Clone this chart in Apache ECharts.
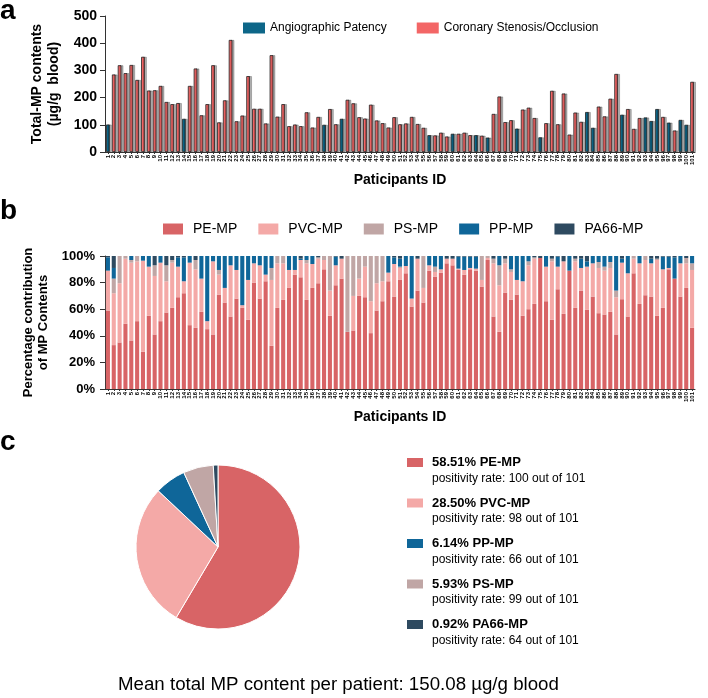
<!DOCTYPE html>
<html>
<head>
<meta charset="utf-8">
<script src="https://cdn.jsdelivr.net/npm/echarts@6/dist/echarts.min.js"></script>
<style>
  html, body { margin: 0; padding: 0; background: #fff; }
  #chart { width: 708px; height: 698px; }
</style>
</head>
<body>
<div id="chart"></div>
<script>
  // ---- data ----
  const participantIds = [];
  for (let i = 1; i <= 101; i++) participantIds.push(String(i));

  // participants with angiographic patency (the rest: stenosis / occlusion)
  const patencyIds = [1, 14, 38, 41, 56, 60, 64, 66, 71, 75, 83, 84, 89, 93, 94, 95, 97, 99, 100];

  // total MP contents, µg/g blood
  const totalMP = [
    101, 285, 319, 290, 320, 265, 350, 226, 227, 243,
    184, 176, 180, 122, 243, 307, 135, 176, 319, 109,
    190, 412, 113, 134, 279, 159, 159, 105, 356, 130,
    176, 95, 101, 95, 146, 90, 129, 100, 158, 102,
    122, 192, 179, 128, 123, 174, 116, 106, 90, 128,
    102, 105, 129, 103, 89, 62, 61, 71, 57, 67,
    67, 71, 62, 62, 60, 53, 140, 204, 110, 117,
    86, 156, 163, 125, 54, 106, 225, 102, 215, 64,
    145, 111, 147, 89, 167, 131, 196, 287, 137, 158,
    85, 125, 127, 114, 158, 129, 108, 79, 118, 100,
    258
  ];

  // percentage contribution of each polymer (%)
  const pePct = [
    59, 33, 35, 49, 36.5, 51, 28, 55, 41, 51,
    57.5, 61, 69, 72, 48, 46, 58, 45, 41, 71,
    65, 54.5, 68, 61, 52, 80, 68, 81, 32.5, 61,
    67, 76, 86, 84, 67, 76, 79.5, 90, 55, 78,
    83, 43, 44, 70, 69, 42, 59, 66, 81, 69.5,
    82, 87, 62, 74, 65, 89, 84.5, 87.5, 94.5, 93,
    89.5, 86, 90, 89, 77, 97, 54.5, 43, 72.5, 67,
    71, 55, 60, 64, 98.5, 66, 52, 75, 56.5, 89,
    61, 74, 59.5, 69.5, 57, 56, 58, 41, 67.5, 54.5,
    87, 64, 70.5, 69.5, 55, 61, 90, 83, 69.5, 76,
    46
  ];
  const pvcPct = [
    30, 39, 44.5, 49, 58.5, 45, 68.5, 37, 44, 44,
    23.5, 34, 23, 9, 47, 44, 25, 6, 55, 15,
    11, 38.5, 21.5, 2, 30, 14.5, 25, 5, 49.5, 33.5,
    27.5, 13.5, 3.5, 13, 27.5, 18, 18.5, 7, 19, 15,
    15, 0, 26, 13, 23, 24, 20.5, 15, 6.5, 24.5,
    9, 5.5, 6, 24, 11, 4, 3.5, 2.5, 3.5, 5,
    1, 3.5, 1, 1.5, 5, 1.5, 40, 35, 22, 21,
    11, 26, 33, 34, 0, 26, 44, 17, 39.5, 0,
    35, 17, 32.5, 25, 34, 33, 33, 28, 27.5, 32.5,
    11, 30.5, 26.5, 25, 42, 29, 1, 0, 25, 18.5,
    43.5
  ];
  const psPct = [
    0, 11, 20.5, 2, 2, 4, 0, 0, 8, 0,
    12, 2, 0, 0, 0, 7, 0, 0, 0, 3.5,
    0, 0, 0, 0, 0, 0, 0, 0, 9, 5.5,
    5.5, 0, 0, 0, 2.5, 0, 1, 3, 26, 0,
    0, 57, 30, 17, 8, 34, 20.5, 19, 0, 0,
    1, 0, 0, 0, 24, 0, 4, 0, 0, 0,
    0, 0, 0, 0, 18, 1.5, 3.5, 15, 3.5, 2,
    0, 0, 3, 1, 0, 0, 2, 0, 0, 0,
    2, 0, 0, 0, 4.5, 3, 4.5, 5, 0, 0,
    2, 0, 3, 0, 1, 0, 0, 0, 0, 4,
    5
  ];
  const ppPct = [
    10, 8, 0, 0, 3, 0, 3.5, 8, 0, 5,
    0, 0, 7, 18, 5, 0, 17, 49, 4, 10.5,
    24, 7, 10.5, 37, 18, 5.5, 7, 14, 9, 0,
    0, 10.5, 10.5, 1, 3, 6, 0, 0, 0, 6.5,
    0, 0, 0, 0, 0, 0, 0, 0, 12.5, 5,
    6, 7.5, 32, 0, 0, 7, 8, 10, 0, 0,
    9, 10, 8.5, 9, 0, 0, 0, 7, 0, 10,
    18, 19, 4, 0, 0, 8, 0, 7.5, 0, 11,
    0, 7, 4, 5.5, 4.5, 8, 4.5, 26, 3, 13,
    0, 5.5, 0, 3.5, 0, 9.5, 8.5, 16, 5.5, 0,
    5.5
  ];
  const pa66Pct = [
    1, 9, 0, 0, 0, 0, 0, 0, 7, 0,
    7, 3, 1, 1, 0, 3, 0, 0, 0, 0,
    0, 0, 0, 0, 0, 0, 0, 0, 0, 0,
    0, 0, 0, 2, 0, 0, 1, 0, 0, 0.5,
    2, 0, 0, 0, 0, 0, 0, 0, 0, 1,
    2, 0, 0, 2, 0, 0, 0, 0, 2, 2,
    0.5, 0.5, 0.5, 0.5, 0, 0, 2, 0, 2, 0,
    0, 0, 0, 1, 1.5, 0, 2, 0.5, 4, 0,
    2, 2, 4, 0, 0, 0, 0, 0, 2, 0,
    0, 0, 0, 2, 2, 0.5, 0.5, 1, 0, 1.5,
    0
  ];

  // pie: mean share of each polymer, positivity counts
  const pieNames = ["PE-MP", "PVC-MP", "PP-MP", "PS-MP", "PA66-MP"];
  const pieShare = [58.51, 28.50, 6.14, 5.93, 0.92];
  const positiveCount = [100, 98, 66, 99, 64];
  const totalParticipants = 101;
  const meanTotal = "150.08";

  // ---- styles ----
  const fontFam = "'Liberation Sans', Arial, Helvetica, sans-serif";
  const colPatency = "#0d6688";
  const colStenosis = "#f36666";
  const polyColors = {
    "PE-MP": "#d86466",
    "PVC-MP": "#f4a9a7",
    "PS-MP": "#c0a6a5",
    "PP-MP": "#0f6699",
    "PA66-MP": "#2e4a60",
  };

  const patencyData = totalMP.map((v, i) => (patencyIds.includes(i + 1) ? v : "-"));
  const stenosisData = totalMP.map((v, i) => (patencyIds.includes(i + 1) ? "-" : v));

  const axisLine = { lineStyle: { color: "#333", width: 1 } };
  const catLabel = { interval: 0, rotate: 90, fontSize: 6, fontWeight: "bold", color: "#000", margin: 3, fontFamily: fontFam };
  const barBorder = {
    borderColor: "#222",
    borderWidth: 0.8,
    shadowColor: "rgba(0,0,0,0.3)",
    shadowOffsetX: 2,
    shadowOffsetY: 0,
    shadowBlur: 0,
  };

  var myChart = echarts.init(document.getElementById("chart"), null, { renderer: "canvas" });

  const stackSeries = [
    ["PE-MP", pePct],
    ["PVC-MP", pvcPct],
    ["PS-MP", psPct],
    ["PP-MP", ppPct],
    ["PA66-MP", pa66Pct],
  ].map(([name, arr]) => ({
    name: name,
    type: "bar",
    stack: "pct",
    xAxisIndex: 1,
    yAxisIndex: 1,
    barCategoryGap: "30%",
    itemStyle: { color: polyColors[name] },
    data: arr,
  }));

  var option = {
    animation: false,
    textStyle: { fontFamily: fontFam },
    graphic: [
      { type: "text", left: 0, top: -3, style: { text: "a", font: "bold 28px " + fontFam, fill: "#000" } },
      { type: "text", left: 0, top: 197, style: { text: "b", font: "bold 28px " + fontFam, fill: "#000" } },
      { type: "text", left: 0, top: 428, style: { text: "c", font: "bold 28px " + fontFam, fill: "#000" } },
      {
        type: "text",
        left: 118,
        top: 675,
        style: {
          text: "Mean total MP content per patient: " + meanTotal + " µg/g blood",
          font: "18.7px " + fontFam,
          fill: "#000",
        },
      },
    ],
    legend: [
      {
        selectedMode: false,
        left: 238,
        top: 17,
        itemWidth: 22,
        itemHeight: 11,
        itemGap: 30,
        icon: "rect",
        itemStyle: { borderWidth: 0, shadowColor: "transparent" },
        textStyle: { fontSize: 12, color: "#000", fontFamily: fontFam },
        data: ["Angiographic Patency", "Coronary Stenosis/Occlusion"],
      },
      {
        selectedMode: false,
        left: 158,
        top: 217,
        itemWidth: 20,
        itemHeight: 11,
        itemGap: 21,
        icon: "rect",
        textStyle: { fontSize: 14, color: "#000", padding: [0, 0, 0, 5], fontFamily: fontFam },
        data: ["PE-MP", "PVC-MP", "PS-MP", "PP-MP", "PA66-MP"],
      },
      {
        selectedMode: false,
        orient: "vertical",
        left: 402,
        top: 451,
        itemWidth: 16,
        itemHeight: 9,
        itemGap: 12,
        icon: "rect",
        data: pieNames,
        formatter: function (name) {
          const i = pieNames.indexOf(name);
          return (
            "{b|" + pieShare[i].toFixed(2) + "% " + name + "}\n" +
            "{n|positivity rate: " + positiveCount[i] + " out of " + totalParticipants + "}"
          );
        },
        textStyle: {
          padding: [16, 0, 0, 4],
          rich: {
            b: { fontWeight: "bold", fontSize: 13, lineHeight: 16, color: "#000", fontFamily: fontFam },
            n: { fontSize: 12, lineHeight: 16, color: "#000", fontFamily: fontFam },
          },
        },
      },
    ],
    grid: [
      { left: 105, top: 16, width: 590, height: 136 },
      { left: 105, top: 256, width: 590, height: 133 },
    ],
    xAxis: [
      {
        type: "category",
        gridIndex: 0,
        data: participantIds,
        axisLine: axisLine,
        axisTick: { show: true, length: 2, alignWithLabel: true, lineStyle: { color: "#333" } },
        axisLabel: catLabel,
        name: "Paticipants ID",
        nameLocation: "middle",
        nameGap: 21,
        nameTextStyle: { fontSize: 14, fontWeight: "bold", color: "#000", fontFamily: fontFam },
      },
      {
        type: "category",
        gridIndex: 1,
        data: participantIds,
        axisLine: axisLine,
        axisTick: { show: true, length: 2, alignWithLabel: true, lineStyle: { color: "#333" } },
        axisLabel: catLabel,
        name: "Paticipants ID",
        nameLocation: "middle",
        nameGap: 21,
        nameTextStyle: { fontSize: 14, fontWeight: "bold", color: "#000", fontFamily: fontFam },
      },
    ],
    yAxis: [
      {
        type: "value",
        gridIndex: 0,
        min: 0,
        max: 500,
        interval: 100,
        splitLine: { show: false },
        axisLine: { show: true, lineStyle: { color: "#333", width: 1 } },
        axisTick: { show: true, length: 5, lineStyle: { color: "#333" } },
        axisLabel: { fontSize: 14, fontWeight: "bold", color: "#000", margin: 8, fontFamily: fontFam },
        name: "Total-MP contents\n(µg/g  blood)",
        nameLocation: "middle",
        nameRotate: 90,
        nameGap: 40,
        nameTextStyle: { fontSize: 14, fontWeight: "bold", color: "#000", lineHeight: 17, fontFamily: fontFam },
      },
      {
        type: "value",
        gridIndex: 1,
        min: 0,
        max: 100,
        interval: 20,
        splitLine: { show: false },
        axisLine: { show: true, lineStyle: { color: "#333", width: 1 } },
        axisTick: { show: true, length: 5, lineStyle: { color: "#333" } },
        axisLabel: { fontSize: 13, fontWeight: "bold", color: "#000", margin: 10, formatter: "{value}%", fontFamily: fontFam },
        name: "Percentage contribution\nof MP Contents",
        nameLocation: "middle",
        nameRotate: 90,
        nameGap: 52,
        nameTextStyle: { fontSize: 13, fontWeight: "bold", color: "#000", lineHeight: 15, fontFamily: fontFam },
      },
    ],
    series: [
      {
        name: "Angiographic Patency",
        type: "bar",
        stack: "mp",
        xAxisIndex: 0,
        yAxisIndex: 0,
        barCategoryGap: "37%",
        itemStyle: Object.assign({ color: colPatency }, barBorder),
        data: patencyData,
      },
      {
        name: "Coronary Stenosis/Occlusion",
        type: "bar",
        stack: "mp",
        xAxisIndex: 0,
        yAxisIndex: 0,
        barCategoryGap: "37%",
        itemStyle: Object.assign({ color: colStenosis }, barBorder),
        data: stenosisData,
      },
    ].concat(stackSeries).concat([
      {
        name: "Mean share",
        type: "pie",
        center: [218, 547],
        radius: 82,
        startAngle: 90,
        clockwise: true,
        label: { show: false },
        labelLine: { show: false },
        itemStyle: { borderColor: "#fff", borderWidth: 1 },
        data: pieNames.map((n, i) => ({ name: n, value: pieShare[i], itemStyle: { color: polyColors[n] } })),
      },
    ]),
  };

  myChart.setOption(option);
</script>
</body>
</html>
